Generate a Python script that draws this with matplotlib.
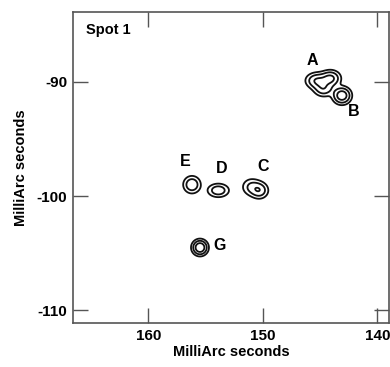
import numpy as np
import matplotlib
matplotlib.use("Agg")
import matplotlib.pyplot as plt

plt.rcParams['font.family'] = ['Liberation Sans', 'DejaVu Sans']
plt.rcParams['axes.unicode_minus'] = False

# Emission components (MilliArc seconds): label, RA offset, Dec offset
spot_labels = ["A", "B", "C", "D", "E", "G"]
label_x = [145.7, 142.1, 150.0, 153.6, 156.8, 153.8]
label_y = [-88.1, -92.6, -97.4, -97.6, -97.0, -104.3]

# Gaussian components building the brightness map
comp_x = [145.3, 144.1, 144.7, 143.1, 151.0, 150.3, 153.9, 156.2, 155.5]
comp_y = [-89.9, -89.7, -90.6, -91.2, -99.2, -99.5, -99.5, -99.0, -104.5]
comp_amp = [0.60, 0.70, 0.50, 0.90, 0.35, 0.50, 0.50, 0.55, 1.00]
comp_sx = [0.55, 0.50, 0.50, 0.45, 0.50, 0.45, 0.55, 0.44, 0.38]
comp_sy = [0.40, 0.40, 0.40, 0.42, 0.45, 0.42, 0.35, 0.44, 0.38]

contour_levels = [0.12, 0.30, 0.60]

fig = plt.figure(figsize=(3.9, 3.67), dpi=100)
ax = fig.add_axes([0.187, 0.120, 0.810, 0.847])

gx = np.linspace(138, 168, 700)
gy = np.linspace(-112, -83, 700)
X, Y = np.meshgrid(gx, gy)
Z = np.zeros_like(X)
for cx, cy, a, sx, sy in zip(comp_x, comp_y, comp_amp, comp_sx, comp_sy):
    Z += a * np.exp(-0.5 * (((X - cx) / sx) ** 2 + ((Y - cy) / sy) ** 2))

ax.contour(X, Y, Z, levels=contour_levels, colors="#111111", linewidths=1.3)

for lab, lx, ly in zip(spot_labels, label_x, label_y):
    ax.text(lx, ly, lab, fontsize=11.5, fontweight="bold", ha="center", va="center")

ax.text(0.04, 0.965, "Spot 1", transform=ax.transAxes, fontsize=10.5,
        fontweight="bold", ha="left", va="top")

ax.set_xlim(166.6, 139.0)
ax.set_ylim(-111.1, -83.9)
ax.set_xticks([160, 150, 140])
ax.set_yticks([-110, -100, -90])
ax.tick_params(direction="in", length=11, width=1, color="#555555",
               top=True, right=True, labelsize=11, pad=4)
for t in ax.get_xticklabels() + ax.get_yticklabels():
    t.set_fontweight("bold")
for s in ax.spines.values():
    s.set_color("#555555")
    s.set_linewidth(1.2)

ax.set_xlabel("MilliArc seconds", fontsize=10.5, fontweight="bold", labelpad=2)
ax.set_ylabel("MilliArc seconds", fontsize=10.5, fontweight="bold", labelpad=6)

fig.savefig("out.png", dpi=100)
